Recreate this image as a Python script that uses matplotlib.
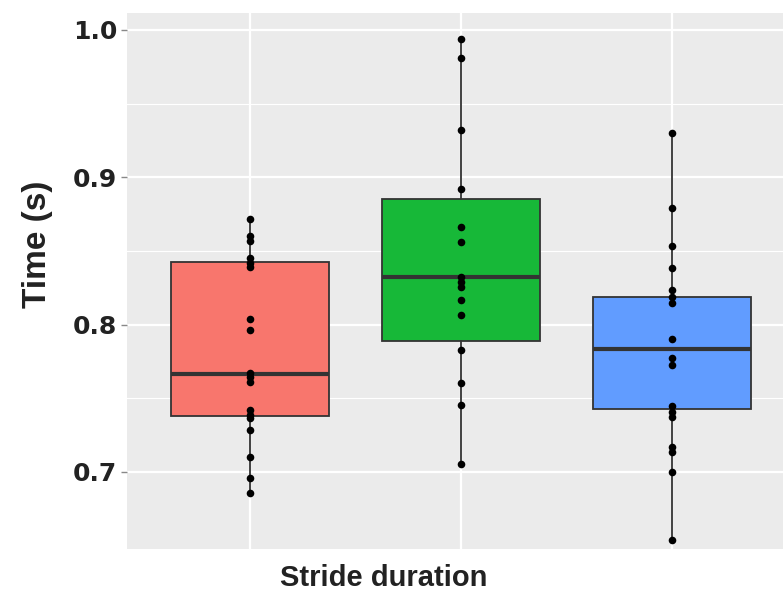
import matplotlib
matplotlib.use("Agg")
import matplotlib.pyplot as plt
import numpy as np

# values
groups = ["A", "B", "C"]
colours = ["#F8766D", "#17B838", "#619CFF"]
q1 = [0.738, 0.789, 0.7425]
med = [0.7665, 0.832, 0.7832]
q3 = [0.8425, 0.885, 0.8185]
whislo = [0.6855, 0.7054, 0.6537]
whishi = [0.8715, 0.9937, 0.9298]

red_pts = [0.8715, 0.860, 0.857, 0.845, 0.8416, 0.839, 0.8036, 0.7963, 0.7673,
           0.7646, 0.761, 0.742, 0.7386, 0.7366, 0.7284, 0.710, 0.6957, 0.6855]
green_pts = [0.9937, 0.9812, 0.932, 0.8918, 0.8665, 0.8563, 0.832, 0.829, 0.8257,
             0.8167, 0.8065, 0.7828, 0.7606, 0.7454, 0.7054]
blue_pts = [0.9298, 0.879, 0.8534, 0.8382, 0.8235, 0.819, 0.8144, 0.790, 0.777,
            0.7726, 0.7447, 0.741, 0.7375, 0.7171, 0.7137, 0.700, 0.6537]
points = [red_pts, green_pts, blue_pts]

fig = plt.figure(figsize=(7.83, 5.97), dpi=100)
ax = fig.add_axes([127/783, 1-549/597, 1-127/783, (549-13)/597])
ax.set_facecolor("#EBEBEB")
for s in ax.spines.values():
    s.set_visible(False)

pos = np.arange(1, len(groups)+1)
stats = []
for i in range(len(groups)):
    stats.append(dict(q1=q1[i], med=med[i], q3=q3[i], whislo=whislo[i],
                      whishi=whishi[i], fliers=[], label=groups[i]))
bp = ax.bxp(stats, positions=pos, widths=0.75, patch_artist=True, showcaps=False,
            boxprops=dict(edgecolor="#333333", linewidth=1.3),
            medianprops=dict(color="#333333", linewidth=3),
            whiskerprops=dict(color="#333333", linewidth=1.3), zorder=3)
for patch, c in zip(bp["boxes"], colours):
    patch.set_facecolor(c)

for i, p in enumerate(points):
    ax.scatter(np.full(len(p), pos[i]), p, s=30, color="black", zorder=4, linewidths=0)

ax.set_xlim(0.417, 3.526)
ax.set_ylim(0.6477, 1.0115)
ax.set_yticks([0.7, 0.8, 0.9, 1.0])
ax.set_yticklabels(["0.7", "0.8", "0.9", "1.0"])
ax.set_yticks([0.75, 0.85, 0.95], minor=True)
ax.set_xticks(pos)
ax.set_xticklabels([])
ax.tick_params(axis="x", length=0)
ax.tick_params(axis="y", which="major", length=4, color="#888888", width=1,
               labelsize=18, pad=3)
ax.tick_params(axis="y", which="minor", length=0)
for t in ax.get_yticklabels():
    t.set_fontweight("bold")
    t.set_family("DejaVu Sans")
    t.set_color("#222222")
ax.grid(which="major", color="white", linewidth=1.6, zorder=0)
ax.grid(which="minor", axis="y", color="white", linewidth=0.8, zorder=0)
ax.set_axisbelow(True)

ax.set_xlabel("Stride duration", fontsize=21, fontweight="bold",
              family="Liberation Sans", color="#222222")
ax.xaxis.set_label_coords(0.392, -0.028)
ax.set_ylabel("Time (s)", fontsize=24, fontweight="bold",
              family="Liberation Sans", color="#222222")
ax.yaxis.set_label_coords(-0.113, 0.569)

fig.savefig("out.png", dpi=100)
